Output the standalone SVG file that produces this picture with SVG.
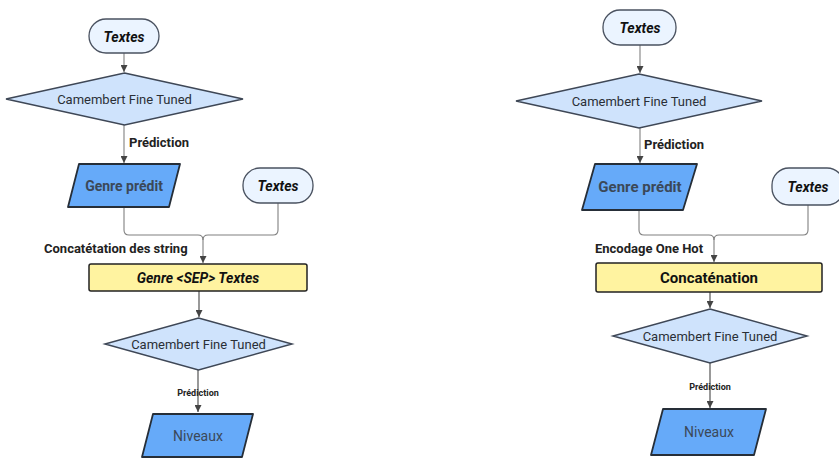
<svg xmlns="http://www.w3.org/2000/svg" width="839" height="459" viewBox="0 0 839 459">
<style>
text{font-family:Roboto,"Liberation Sans",Arial,sans-serif;text-anchor:middle;dominant-baseline:central}
.term{fill:#ebf4ff;stroke:#4a5260;stroke-width:1.3}
.dec{fill:#cfe3fc;stroke:#3e4756;stroke-width:1.5}
.io{fill:#66aaf9;stroke:#262e38;stroke-width:1.8;stroke-linejoin:round}
.proc{fill:#fff3a0;stroke:#222;stroke-width:1.5}
.conn path{fill:none;stroke:#808080;stroke-width:1.1}
.conn path.dk{stroke:#444}
.t-term{font-weight:bold;font-style:italic;font-size:14px;fill:#111}
.t-dec{font-size:13px;fill:#2a2f36}
.t-io{font-weight:bold;font-size:14px;fill:#3b4858}
.t-lbl{font-weight:bold;font-size:13px;fill:#222;text-anchor:start}
.t-sm{font-weight:bold;font-size:9px;fill:#222}
</style>
<defs>
<marker id="ah" viewBox="0 0 10 10" refX="10" refY="5" markerWidth="7" markerHeight="7" markerUnits="userSpaceOnUse" orient="auto">
<path d="M0,0 L10,5 L0,10 z" fill="#444"/>
</marker>
</defs>

<g class="conn">
<path d="M124,53 V72" marker-end="url(#ah)"/>
<path d="M124,125 V163" marker-end="url(#ah)"/>
<path d="M124,207 V230 Q124,235 129,235 H198 Q203,235 203,240 V263" marker-end="url(#ah)"/>
<path d="M278,203 V230 Q278,235 273,235 H208 Q203,235 203,240"/>
<path class="dk" d="M199,291 V317" marker-end="url(#ah)"/>
<path class="dk" d="M198,370 V412" marker-end="url(#ah)"/>

<path d="M640,45 V73" marker-end="url(#ah)"/>
<path d="M640,128 V163" marker-end="url(#ah)"/>
<path d="M639,210 V230 Q639,235 644,235 H709 Q714,235 714,240 V262" marker-end="url(#ah)"/>
<path d="M808,205 V230 Q808,235 803,235 H719 Q714,235 714,240"/>
<path class="dk" d="M710,292 V308" marker-end="url(#ah)"/>
<path class="dk" d="M710,363 V408" marker-end="url(#ah)"/>
</g>
<g id="labels">
<text class="t-lbl" x="129" y="142">Prédiction</text>
<text class="t-lbl" x="44" y="248">Concatétation des string</text>
<text class="t-sm" x="198" y="393">Prédiction</text>
<text class="t-lbl" x="644" y="144">Prédiction</text>
<text class="t-lbl" x="595" y="248">Encodage One Hot</text>
<text class="t-sm" x="710" y="387">Prédiction</text>
</g>

<g id="textes1"><rect class="term" x="89" y="19" width="70" height="34" rx="17"/><text class="t-term" x="124" y="36.5">Textes</text></g>
<g id="camembert1"><polygon class="dec" points="124.5,73 243,99 124.5,125 6,99"/><text class="t-dec" x="124.5" y="99.5">Camembert Fine Tuned</text></g>
<g id="genre1"><polygon class="io" points="79,164 180,164 169,207 68,207"/><text class="t-io" x="124" y="186">Genre prédit</text></g>
<g id="textes2"><rect class="term" x="243" y="168" width="70" height="35" rx="17"/><text class="t-term" x="278" y="186">Textes</text></g>
<g id="sep"><rect class="proc" x="89" y="264" width="218" height="27" rx="2"/><text class="t-term" x="198" y="278">Genre &lt;SEP&gt; Textes</text></g>
<g id="camembert2"><polygon class="dec" points="198.5,318 292,344 198.5,370 105,344"/><text class="t-dec" x="198.5" y="344.5">Camembert Fine Tuned</text></g>
<g id="niveaux1"><polygon class="io" points="153,414 253,414 242,457 142,457"/><text class="t-io" x="198" y="436" style="font-weight:normal">Niveaux</text></g>

<g id="textes3"><rect class="term" x="603" y="10" width="73" height="35" rx="17"/><text class="t-term" x="640" y="27.5">Textes</text></g>
<g id="camembert3"><polygon class="dec" points="639,74 762,101 639,128 516,101"/><text class="t-dec" x="639" y="101.5">Camembert Fine Tuned</text></g>
<g id="genre2"><polygon class="io" points="595,164 697,164 683,210 582,210"/><text class="t-io" x="640" y="187" style="font-size:15px">Genre prédit</text></g>
<g id="textes4"><rect class="term" x="772" y="168" width="72" height="37" rx="17"/><text class="t-term" x="808" y="187">Textes</text></g>
<g id="concat"><rect class="proc" x="596" y="263" width="226" height="29" rx="2"/><text class="t-term" x="709" y="277.5" style="font-style:normal;font-size:15px">Concaténation</text></g>
<g id="camembert4"><polygon class="dec" points="710,309 807,336 710,363 613,336"/><text class="t-dec" x="710" y="336.5">Camembert Fine Tuned</text></g>
<g id="niveaux2"><polygon class="io" points="663,409 766,409 754,455 651,455"/><text class="t-io" x="709" y="432" style="font-weight:normal">Niveaux</text></g>
</svg>
